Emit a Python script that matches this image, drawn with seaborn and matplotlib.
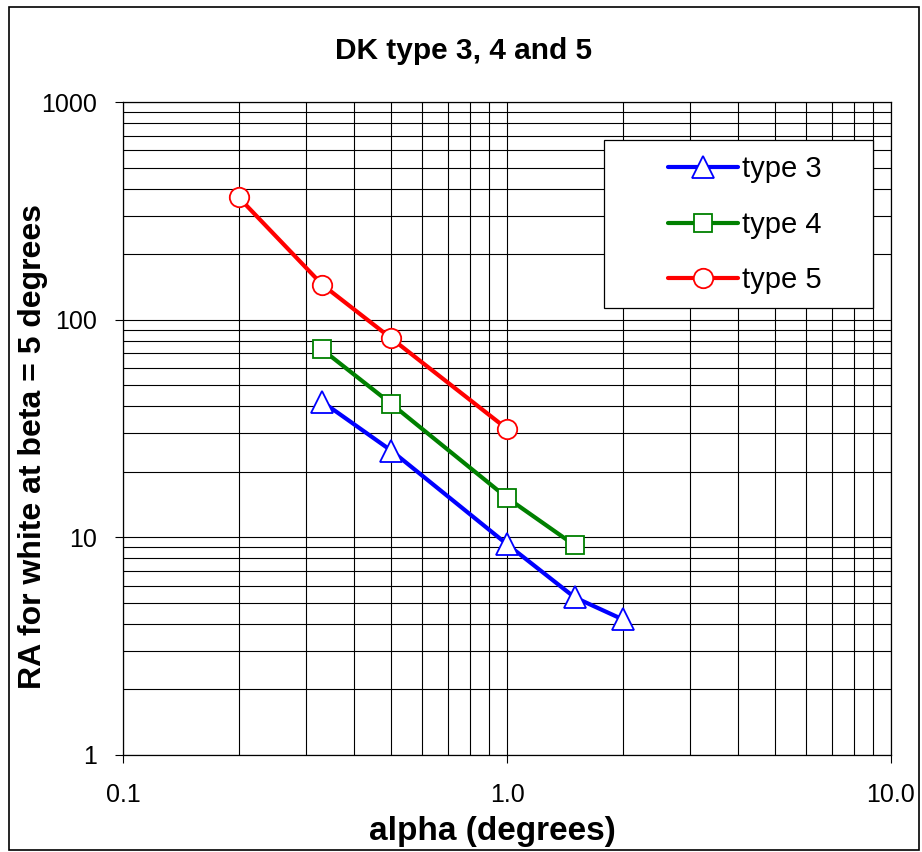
import matplotlib
matplotlib.use("Agg")
import matplotlib.pyplot as plt
import matplotlib.ticker as mticker
from matplotlib.patches import Rectangle
import pandas as pd
import seaborn as sns

# values
alpha_t3 = [0.33, 0.5, 1.0, 1.5, 2.0]
ra_t3 = [42, 25, 9.3, 5.3, 4.2]
alpha_t4 = [0.33, 0.5, 1.0, 1.5]
ra_t4 = [73, 41, 15.2, 9.2]
alpha_t5 = [0.2, 0.33, 0.5, 1.0]
ra_t5 = [365, 145, 82, 31.5]

series = [
    ("type 3", alpha_t3, ra_t3, "#0000ff", "^", 16),
    ("type 4", alpha_t4, ra_t4, "#008000", "s", 13),
    ("type 5", alpha_t5, ra_t5, "#ff0000", "o", 14),
]

sns.set_theme(style="ticks")
plt.rcParams["font.family"] = ["Liberation Sans", "DejaVu Sans"]
for k in ["text.color", "axes.labelcolor", "xtick.color", "ytick.color"]:
    plt.rcParams[k] = "black"

fig = plt.figure(figsize=(9.22, 8.52), dpi=100)
ax = fig.add_axes([123 / 922, 1 - 755 / 852, 768 / 922, 653 / 852])

for name, xs, ys, col, mk, ms in series:
    df = pd.DataFrame({"alpha": xs, "ra": ys})
    sns.lineplot(data=df, x="alpha", y="ra", ax=ax, color=col, marker=mk,
                 markersize=ms, markerfacecolor="white", markeredgecolor=col,
                 markeredgewidth=1.3, linewidth=3, label=name, zorder=3)

ax.set_xscale("log")
ax.set_yscale("log")
ax.set_xlim(0.1, 10)
ax.set_ylim(1, 1000)

ax.xaxis.set_major_locator(mticker.FixedLocator([0.1, 1.0, 10.0]))
ax.xaxis.set_major_formatter(mticker.FormatStrFormatter("%.1f"))
ax.yaxis.set_major_locator(mticker.FixedLocator([1, 10, 100, 1000]))
ax.yaxis.set_major_formatter(mticker.FormatStrFormatter("%d"))
ax.xaxis.set_minor_locator(mticker.LogLocator(base=10, subs=range(2, 10)))
ax.yaxis.set_minor_locator(mticker.LogLocator(base=10, subs=range(2, 10)))
ax.xaxis.set_minor_formatter(mticker.NullFormatter())
ax.yaxis.set_minor_formatter(mticker.NullFormatter())

ax.grid(True, which="both", color="black", linewidth=0.8)
ax.set_axisbelow(True)
ax.tick_params(which="major", direction="out", length=6, width=0.8,
               color="black", labelcolor="black", labelsize=18)
ax.tick_params(axis="x", which="major", pad=14)
ax.tick_params(axis="y", which="major", pad=13)
ax.tick_params(which="minor", length=0)
for sp in ax.spines.values():
    sp.set_color("black")
    sp.set_linewidth(0.9)

ax.set_xlabel("alpha (degrees)", fontsize=24, fontweight="bold", color="black")
ax.xaxis.set_label_coords(0.4805, -0.094)
ax.set_ylabel("RA for white at beta = 5 degrees", fontsize=23,
              fontweight="bold", color="black")
ax.yaxis.set_label_coords(-0.098, 0.4717)
fig.text(464 / 922, 1 - 51 / 852, "DK type 3, 4 and 5", ha="center",
         va="center", fontsize=21.5, fontweight="bold", color="black")

# legend box drawn separately so its padding matches the reference
ax.add_patch(Rectangle((0.6263, 0.6845), 0.3503, 0.2573, transform=ax.transAxes,
                       facecolor="white", edgecolor="black", linewidth=0.9,
                       zorder=4))
leg = ax.legend(loc="center left", bbox_to_anchor=(0.7096, 0.812), fontsize=21,
                frameon=False, handlelength=2.4, labelspacing=0.95,
                borderpad=0, handletextpad=0.15, borderaxespad=0,
                labelcolor="black")
leg.set_zorder(5)

fig.patches.append(Rectangle((9 / 922, 0.002), 910 / 922, 1 - 7 / 852 - 0.002,
                             transform=fig.transFigure, fill=False,
                             edgecolor="black", linewidth=1.2))

fig.savefig("out.png", dpi=100)
